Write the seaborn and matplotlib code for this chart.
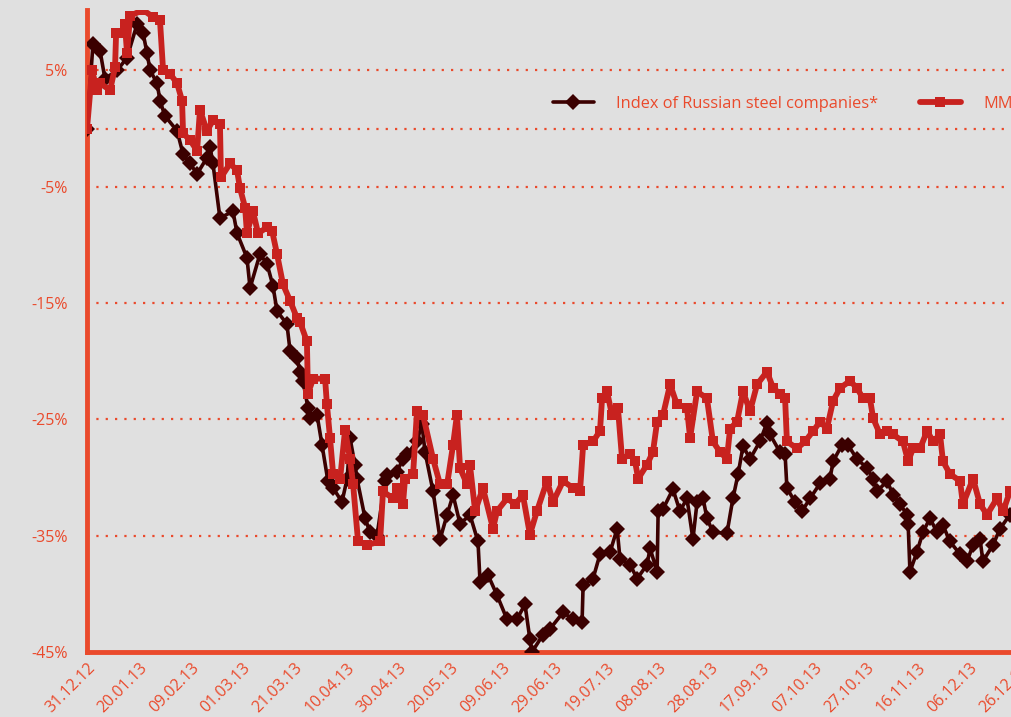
import matplotlib
matplotlib.use("Agg")
import matplotlib.pyplot as plt
import seaborn as sns
import pandas as pd

# days after 31.12.12 and % change
index_days = [0, 2.3, 5.0, 6.9, 11.6, 15.4, 19.3, 21.6, 23.1, 24.3, 27.0, 28.1, 30.0,
              34.7, 37.0, 39.7, 42.4, 46.2, 47.4, 48.5, 51.2, 56.2, 57.8, 61.6, 62.8,
              66.6, 69.3, 71.6, 73.2, 77.0, 78.2, 80.9, 82.0, 83.2, 85.1, 85.9, 88.6,
              90.5, 92.8, 94.8, 98.2, 100.2, 101.3, 103.2, 104.0, 107.1, 109.0, 111.7,
              114.8, 115.6, 119.4, 121.7, 123.3, 127.1, 129.0, 130.2, 133.3, 136.0,
              138.7, 141.0, 143.7, 147.5, 150.6, 151.4, 154.5, 157.9, 161.8, 165.6,
              168.7, 170.6, 171.4, 175.7, 178.4, 183.4, 187.2, 190.7, 191.1, 194.9,
              197.6, 201.5, 204.2, 205.3, 209.2, 211.9, 215.7, 216.9, 219.6, 220.0,
              221.9, 225.7, 228.4, 231.1, 233.4, 235.0, 237.3, 238.8, 241.1, 246.5,
              248.8, 250.8, 252.7, 255.4, 259.2, 261.9, 263.1, 266.9, 268.9, 269.6,
              272.7, 275.4, 278.5, 282.4, 286.2, 287.4, 290.8, 293.1, 296.6, 300.5,
              302.8, 304.3, 308.2, 310.5, 313.2, 315.9, 316.3, 317.0, 319.7, 322.0,
              324.7, 327.4, 329.7, 332.4, 336.3, 339.0, 341.3, 344.0, 345.1, 349.0,
              351.7, 355.5, 359.4]
index_vals = [0.0, 7.3, 6.7, 4.3, 5.0, 6.1, 9.0, 8.2, 6.5, 5.0, 3.9, 2.4, 1.1,
              -0.2, -2.2, -3.0, -3.9, -2.5, -1.6, -3.0, -7.7, -7.1, -9.0, -11.1, -13.7,
              -10.8, -11.6, -13.5, -15.7, -16.8, -19.1, -19.7, -20.9, -21.7, -24.0, -24.9, -24.6,
              -27.2, -30.3, -30.9, -32.1, -30.1, -26.6, -28.9, -30.1, -33.5, -34.7, -35.0,
              -30.3, -29.8, -29.5, -28.4, -28.0, -26.9, -25.4, -27.8, -31.2, -35.3,
              -33.2, -31.5, -34.0, -33.2, -35.5, -39.0, -38.4, -40.1, -42.2, -42.2,
              -40.9, -43.9, -45.0, -43.5, -43.0, -41.6, -42.2, -42.4, -39.2, -38.7,
              -36.6, -36.4, -34.4, -37.0, -37.5, -38.7, -37.5, -36.1, -38.1, -32.9,
              -32.7, -31.0, -32.9, -31.8, -35.3, -32.1, -31.8, -33.5, -34.7, -34.8,
              -31.8, -29.7, -27.3, -28.4, -26.9, -25.3, -26.3, -27.8, -28.0, -30.9,
              -32.1, -32.9, -31.8, -30.5, -30.1, -28.6, -27.2, -27.2, -28.4, -29.2,
              -30.1, -31.2, -30.3, -31.5, -32.3, -33.2, -34.0, -38.1, -36.4, -34.7,
              -33.5, -34.7, -34.1, -35.5, -36.6, -37.2, -35.8, -35.3, -37.2, -35.8,
              -34.4, -33.2, -32.5]

mmk_days = [0, 1.9, 3.9, 5.0, 8.9, 10.8, 11.2, 13.9, 14.6, 15.4, 16.6, 21.6, 25.4,
            28.1, 29.3, 32.0, 34.7, 36.6, 37.0, 39.7, 42.4, 43.5, 46.2, 48.5, 51.2,
            51.6, 55.1, 57.8, 58.9, 60.9, 61.6, 63.9, 65.9, 69.3, 71.3, 73.2, 75.5,
            78.2, 80.9, 82.0, 84.7, 85.1, 87.1, 91.7, 92.4, 93.6, 94.8, 97.5, 99.4,
            101.3, 102.5, 104.4, 107.9, 112.9, 114.0, 117.9, 119.4, 121.7, 122.5,
            125.6, 127.1, 129.4, 133.3, 136.0, 138.7, 141.0, 142.5, 143.7, 146.4,
            147.5, 149.5, 152.5, 156.4, 157.9, 161.8, 164.9, 167.9, 170.6, 173.3,
            177.2, 179.5, 183.4, 187.2, 189.9, 191.1, 194.9, 197.6, 198.4, 200.3,
            202.2, 204.5, 206.1, 209.2, 211.1, 212.3, 215.7, 218.0, 219.6, 221.9,
            224.6, 227.2, 231.1, 232.3, 235.0, 238.8, 241.1, 243.8, 246.5, 247.7,
            250.4, 252.7, 255.4, 258.1, 261.9, 264.3, 266.9, 268.9, 269.6, 273.5,
            276.6, 279.7, 282.4, 285.0, 287.4, 290.1, 293.9, 296.6, 298.9, 301.6,
            302.8, 305.5, 308.2, 310.5, 314.3, 316.3, 318.2, 320.9, 323.6, 325.9,
            328.6, 329.7, 332.4, 336.3, 337.4, 341.3, 344.0, 346.7, 350.5, 352.9,
            355.5, 359.4]
mmk_vals = [0.0, 5.0, 3.3, 3.9, 3.3, 5.3, 8.2, 8.2, 9.0, 6.5, 9.7, 10.2, 9.6,
            9.3, 5.0, 4.7, 3.9, 2.4, -0.4, -1.0, -1.9, 1.6, -0.2, 0.7, 0.4,
            -4.2, -3.0, -3.6, -5.1, -6.8, -9.0, -7.1, -9.0, -8.5, -8.8, -10.8, -13.4,
            -14.8, -16.3, -16.6, -18.3, -22.8, -21.5, -21.5, -23.7, -26.6, -29.7, -30.1, -25.9,
            -28.4, -30.6, -35.5, -35.8, -35.5, -31.2, -31.8, -30.9, -32.3, -30.1,
            -29.7, -24.3, -24.6, -28.4, -30.6, -30.6, -27.2, -24.6, -29.2, -30.6,
            -28.9, -32.9, -30.9, -34.4, -32.9, -31.8, -32.3, -31.5, -34.9, -32.9,
            -30.3, -32.1, -30.3, -30.9, -31.2, -27.2, -26.9, -26.0, -23.2, -22.6,
            -24.6, -24.0, -28.4, -28.0, -28.6, -30.1, -28.9, -27.8, -25.2, -24.6,
            -22.0, -23.7, -24.0, -26.6, -22.6, -23.2, -26.9, -27.8, -28.4, -25.8,
            -25.2, -22.6, -24.3, -22.0, -20.9, -22.3, -22.8, -23.2, -26.9, -27.5,
            -26.9, -26.0, -25.2, -25.8, -23.4, -22.3, -21.7, -22.3, -23.2, -23.2,
            -24.9, -26.3, -26.0, -26.3, -26.9, -28.6, -27.5, -27.5, -26.0, -26.9,
            -26.3, -28.6, -29.7, -30.3, -32.3, -30.1, -32.3, -33.2, -31.8, -32.9,
            -31.2, -30.5]

ytick_vals = [5, -5, -15, -25, -35, -45]
grid_vals = [5, 0, -5, -15, -25, -35]
start = pd.Timestamp("2012-12-31")
xtick_days = list(range(0, 361, 20))
xtick_labels = [(start + pd.Timedelta(days=d)).strftime("%d.%m.%y") for d in xtick_days]

accent = "#ea4a2c"
bg = "#e0e0e0"

sns.set_style("white")
plt.rcParams["font.family"] = ["Open Sans", "DejaVu Sans"]

fig = plt.figure(figsize=(10.12, 7.17), dpi=100, facecolor=bg)
ax = fig.add_axes([0.086, 0.0907, 0.9363, 0.8954])
ax.set_facecolor(bg)

for g in grid_vals:
    ax.axhline(g, color=accent, lw=1.6, linestyle=(0, (1, 3.2)), zorder=1)

sns.lineplot(x=index_days, y=index_vals, ax=ax, color="#3b0000", lw=2.6,
             marker="D", markersize=8.5, markeredgewidth=0, estimator=None,
             label="Index of Russian steel companies*", zorder=3)
sns.lineplot(x=mmk_days, y=mmk_vals, ax=ax, color="#c8221f", lw=4.2,
             marker="s", markersize=7.5, markeredgewidth=0, estimator=None,
             label="MMK", zorder=4)

ax.set_xlim(0, 365)
ax.set_ylim(-45, 10.2)
ax.set_yticks(ytick_vals)
ax.set_yticklabels([f"{v}%" for v in ytick_vals], color=accent, fontsize=11.5)
ax.set_xticks(xtick_days)
ax.set_xticklabels(xtick_labels, rotation=45, ha="right", va="top",
                   rotation_mode="anchor", color=accent, fontsize=11.5)
ax.tick_params(axis="both", length=0)
ax.tick_params(axis="y", pad=14)
ax.tick_params(axis="x", pad=6)
ax.set_xlabel("")
ax.set_ylabel("")

for side in ["top", "right"]:
    ax.spines[side].set_visible(False)
for side in ["left", "bottom"]:
    ax.spines[side].set_color(accent)
    ax.spines[side].set_linewidth(3.5)

leg = fig.legend(*ax.get_legend_handles_labels(), loc="center left",
                 bbox_to_anchor=(0.546, 0.855), ncol=2, frameon=False,
                 fontsize=11.8, handlelength=2.5, handletextpad=1.4,
                 columnspacing=2.5, borderpad=0, borderaxespad=0)
for t in leg.get_texts():
    t.set_color(accent)
ax.get_legend().remove()

fig.savefig("out.png", dpi=100, facecolor=bg)
